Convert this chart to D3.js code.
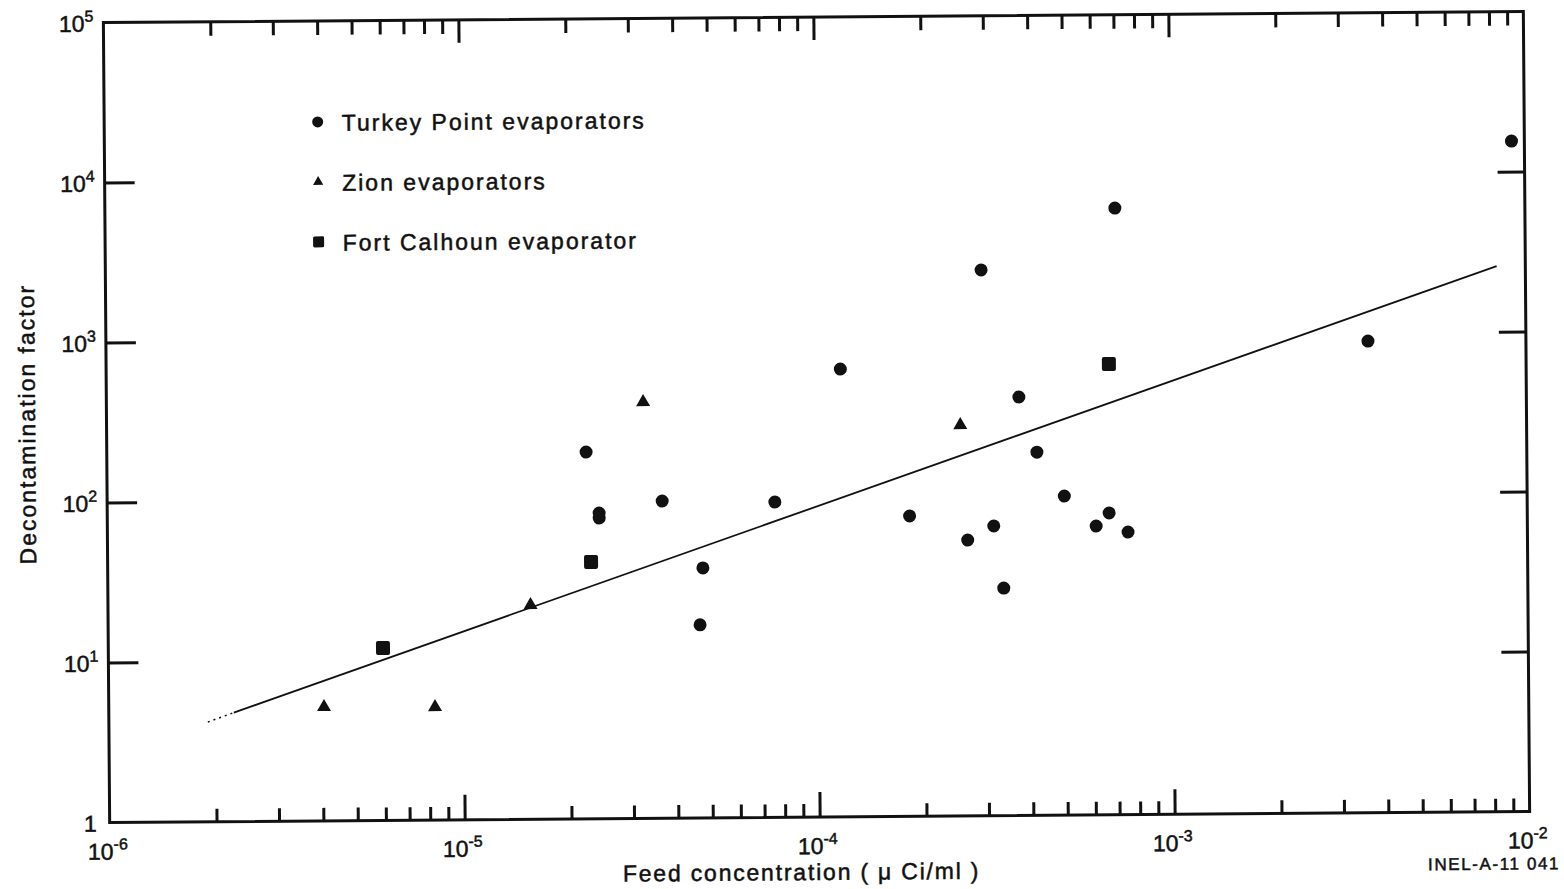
<!DOCTYPE html>
<html>
<head>
<meta charset="utf-8">
<script src="https://cdn.jsdelivr.net/npm/d3@7"></script>
<style>
  body { margin: 0; background: #fff; }
  text { font-family: "Liberation Sans", Arial, sans-serif; fill: #111; stroke: #111; stroke-width: 0.5px; }
</style>
</head>
<body>
<svg id="chart" width="1564" height="889"></svg>
<script>
// Turkey Point evaporators (circles)
const turkeyX = [9.2e-3, 7.0e-4, 2.93e-4, 3.59e-3, 1.17e-4, 3.72e-4, 2.24e-5, 4.17e-4, 4.97e-4, 3.66e-5, 7.6e-5,
                 2.43e-5, 2.43e-5, 1.82e-4, 6.64e-4, 3.14e-4, 6.1e-4, 7.5e-4, 2.65e-4, 4.75e-5, 3.34e-4, 4.65e-5];
const turkeyY = [15500, 6180, 2575, 886, 629, 412, 196, 186, 98.6, 96, 93.5,
                 81.4, 75.7, 75.3, 76.9, 64.6, 63.8, 58.3, 52.9, 36.5, 26.4, 16.1];

// Zion evaporators (triangles)
const zionX = [3.25e-5, 2.54e-4, 1.55e-5, 4.04e-6, 8.3e-6];
const zionY = [400, 277, 21.8, 5.15, 5.08];

// Fort Calhoun evaporator (squares)
const calhounX = [6.68e-4, 2.3e-5, 5.94e-6];
const calhounY = [656, 40.3, 11.95];

// fitted line: first piece is dotted
const fitX = [1.9e-6, 2.25e-6, 8.3e-3];
const fitY = [4.2, 4.8, 2570];

const xDecades = [1e-6, 1e-5, 1e-4, 1e-3, 1e-2];
const xExps = ['-6', '-5', '-4', '-3', '-2'];
const yDecades = [1, 10, 100, 1000, 1e4, 1e5];
const yExps = ['', '1', '2', '3', '4', '5'];

const legendNames = ['Turkey Point evaporators', 'Zion evaporators', 'Fort Calhoun evaporator'];

const L = 106.5, R = 1526.5, T = 17, B = 817;
const svg = d3.select('#chart');

// the scan is turned a little, so turn the whole drawing with it
const g = svg.append('g').attr('transform', 'rotate(-0.45, 816.5, 417)');

const x = d3.scaleLog().domain([1e-6, 1e-2]).range([L, R]);
const y = d3.scaleLog().domain([1, 1e5]).range([B, T]);

/** minor ticks 2..9 in every decade */
const minor = [];
xDecades.slice(0, -1).forEach(d => {
    for (let k = 2; k <= 9; k++) minor.push(d * k);
});
const innerMajor = xDecades.slice(1, -1);

const tickStyle = (sel) => {
    sel.select('.domain').remove();
    sel.selectAll('line').attr('stroke', '#111').attr('stroke-width', 3);
};

g.append('g').attr('transform', `translate(0,${B})`)
    .call(d3.axisBottom(x).tickValues(minor).tickSize(-13).tickFormat(''))
    .call(tickStyle);
g.append('g').attr('transform', `translate(0,${B})`)
    .call(d3.axisBottom(x).tickValues(innerMajor).tickSize(-25).tickFormat(''))
    .call(tickStyle);
g.append('g').attr('transform', `translate(0,${T})`)
    .call(d3.axisTop(x).tickValues(minor).tickSize(-14).tickFormat(''))
    .call(tickStyle);
g.append('g').attr('transform', `translate(0,${T})`)
    .call(d3.axisTop(x).tickValues(innerMajor).tickSize(-23).tickFormat(''))
    .call(tickStyle);
g.append('g').attr('transform', `translate(${L},0)`)
    .call(d3.axisLeft(y).tickValues(yDecades.slice(1, -1)).tickSize(-30).tickFormat(''))
    .call(tickStyle);
g.append('g').attr('transform', `translate(${R},0)`)
    .call(d3.axisRight(y).tickValues(yDecades.slice(1, -1)).tickSize(-27).tickFormat(''))
    .call(tickStyle);

/** frame */
g.append('rect')
    .attr('x', L).attr('y', T)
    .attr('width', R - L).attr('height', B - T)
    .attr('fill', 'none').attr('stroke', '#111').attr('stroke-width', 3);

/** tick labels with superscripts */
xDecades.forEach((d, i) => {
    const t = g.append('text')
        .attr('x', x(d) - 2).attr('y', B + 37)
        .attr('text-anchor', 'middle')
        .style('font-size', '23px');
    t.append('tspan').text('10');
    t.append('tspan').attr('dy', -10).style('font-size', '16px').text(xExps[i]);
});
yDecades.forEach((d, i) => {
    const t = g.append('text')
        .attr('x', L - 10).attr('y', y(d) + 9)
        .attr('text-anchor', 'end')
        .style('font-size', '23px');
    if (yExps[i] === '') {
        t.attr('x', L - 13).text('1');
    } else {
        t.append('tspan').text('10');
        t.append('tspan').attr('dy', -10).style('font-size', '16px').text(yExps[i]);
    }
});

/** axis titles */
g.append('text')
    .attr('x', 798).attr('y', B + 63)
    .attr('text-anchor', 'middle')
    .style('font-size', '23px').style('letter-spacing', '1.8px')
    .text('Feed concentration ( \u03bc Ci/ml )');
g.append('text')
    .attr('transform', `translate(35,${(T + B) / 2 + 1}) rotate(-90)`)
    .attr('text-anchor', 'middle')
    .style('font-size', '23px').style('letter-spacing', '2px')
    .text('Decontamination factor');
g.append('text')
    .attr('x', R + 30).attr('y', B + 58)
    .attr('text-anchor', 'end')
    .style('font-size', '17px').style('letter-spacing', '1.6px')
    .text('INEL-A-11 041');

/** fitted line */
const line = d3.line().x(d => x(d[0])).y(d => y(d[1]));
g.append('path')
    .attr('d', line([[fitX[0], fitY[0]], [fitX[1], fitY[1]]]))
    .attr('fill', 'none').attr('stroke', '#111').attr('stroke-width', 1.5)
    .attr('stroke-dasharray', '2,4');
g.append('path')
    .attr('d', line([[fitX[1], fitY[1]], [fitX[2], fitY[2]]]))
    .attr('fill', 'none').attr('stroke', '#111').attr('stroke-width', 1.8);

/** data points */
g.selectAll('circle.turkey')
    .data(turkeyX.map((v, i) => [v, turkeyY[i]]))
    .enter()
    .append('circle')
    .attr('class', 'turkey')
    .attr('cx', d => x(d[0])).attr('cy', d => y(d[1]))
    .attr('r', 6.5).attr('fill', '#111');

const tri = d3.symbol().type(d3.symbolTriangle).size(85);
g.selectAll('path.zion')
    .data(zionX.map((v, i) => [v, zionY[i]]))
    .enter()
    .append('path')
    .attr('class', 'zion')
    .attr('d', tri)
    .attr('transform', d => `translate(${x(d[0])},${y(d[1])})`)
    .attr('fill', '#111');

g.selectAll('rect.calhoun')
    .data(calhounX.map((v, i) => [v, calhounY[i]]))
    .enter()
    .append('rect')
    .attr('class', 'calhoun')
    .attr('x', d => x(d[0]) - 7).attr('y', d => y(d[1]) - 7)
    .attr('width', 14).attr('height', 14).attr('rx', 2)
    .attr('fill', '#111');

/** legend */
const legend = g.append('g').attr('transform', 'translate(320,118)');
legendNames.forEach((name, i) => {
    const row = legend.append('g').attr('transform', `translate(0,${i * 60})`);
    if (i === 0) {
        row.append('circle').attr('r', 5.5).attr('fill', '#111');
    } else if (i === 1) {
        row.append('path').attr('d', d3.symbol().type(d3.symbolTriangle).size(45)).attr('fill', '#111');
    } else {
        row.append('rect').attr('x', -5.5).attr('y', -5.5).attr('width', 11).attr('height', 11)
            .attr('rx', 1.5).attr('fill', '#111');
    }
    row.append('text')
        .attr('x', 24).attr('y', 9)
        .style('font-size', '23px').style('letter-spacing', '2px')
        .text(name);
});
</script>
</body>
</html>
